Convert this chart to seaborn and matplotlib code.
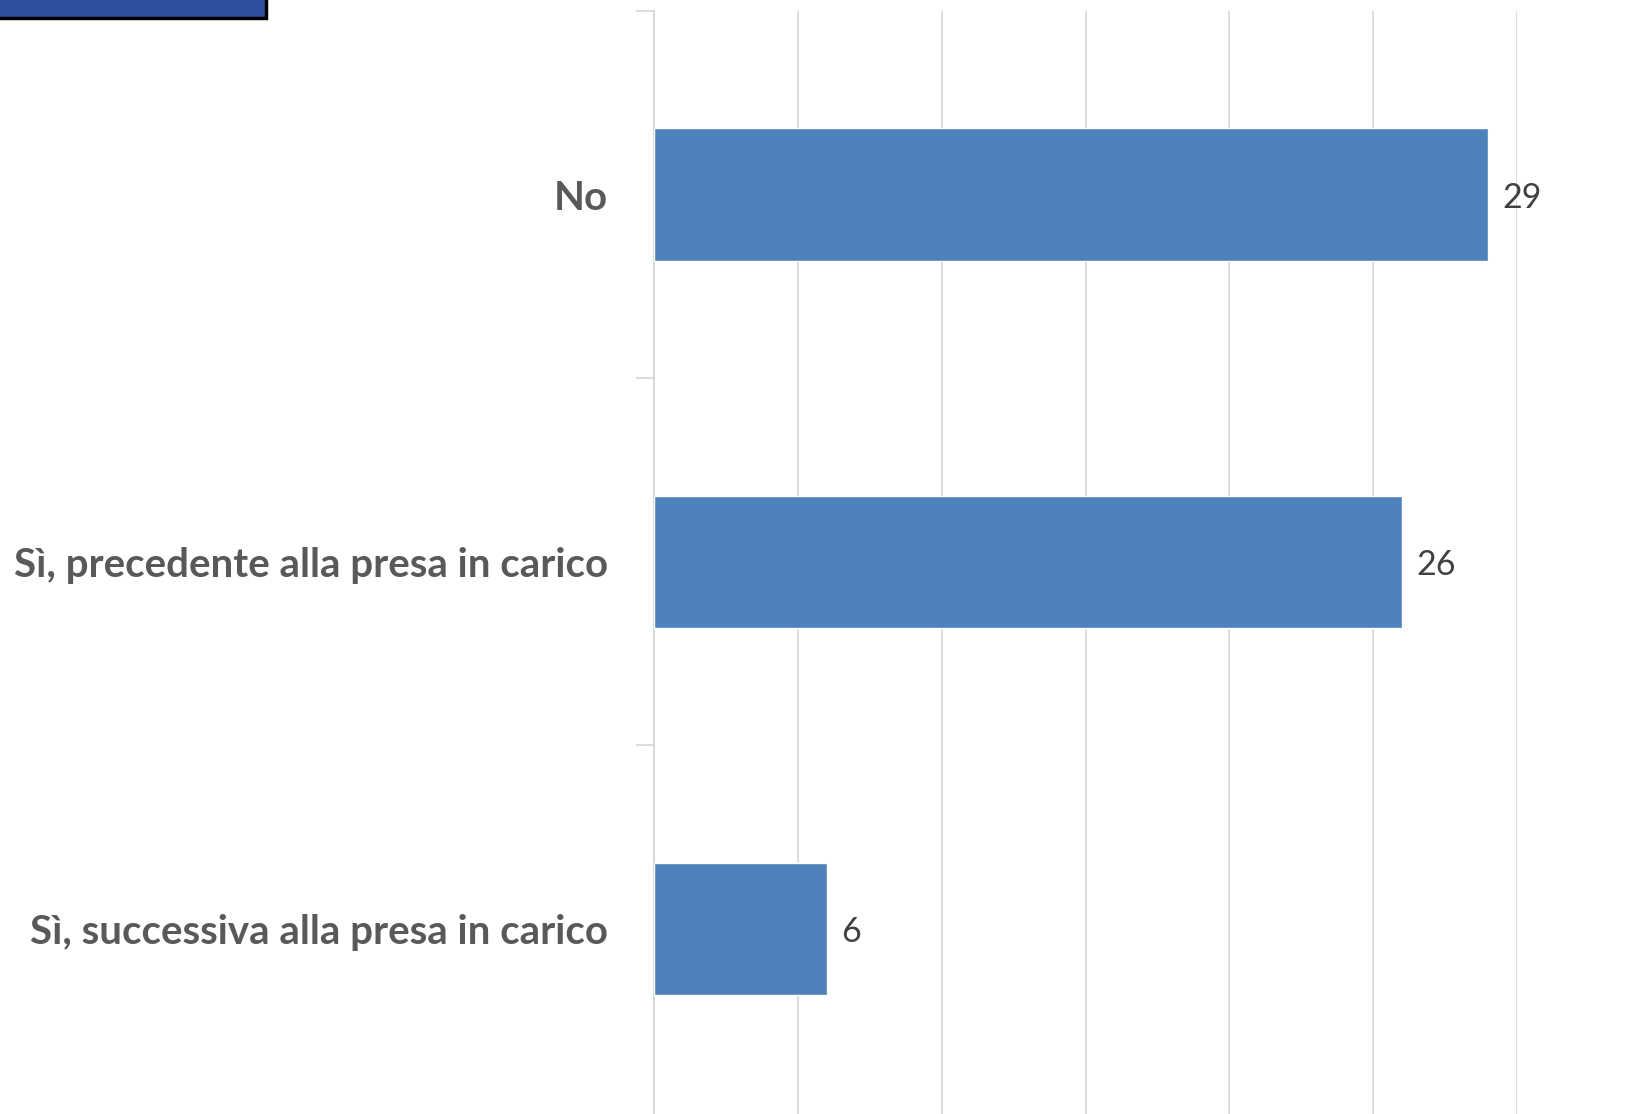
import matplotlib
matplotlib.use("Agg")
import matplotlib.pyplot as plt
import seaborn as sns
import pandas as pd
from matplotlib.patches import Rectangle

# dati
categorie = ["No", "Sì, precedente alla presa in carico", "Sì, successiva alla presa in carico"]
valori = [29, 26, 6]
x_ticks = [0, 5, 10, 15, 20, 25, 30]

BLU = "#4F81BD"
GRIGIO_TESTO = "#595959"
GRIGIO_GRIGLIA = "#D9D9D9"

sns.set_style("white")
plt.rcParams["font.family"] = ["Lato", "DejaVu Sans"]

df = pd.DataFrame({"categoria": categorie, "valore": valori})

fig = plt.figure(figsize=(16.49, 11.14), dpi=100)
ax = fig.add_axes([654 / 1649, 0.0, (1517 - 654) / 1649, 1 - 11 / 1114])

sns.barplot(data=df, y="categoria", x="valore", orient="h", color=BLU,
            width=0.36, saturation=1, ax=ax, zorder=3)

ax.set_xlim(0, 30)
ax.set_ylim(2.505, -0.5)
ax.set_xticks(x_ticks)
ax.set_xticklabels([])
ax.grid(axis="x", color=GRIGIO_GRIGLIA, lw=1.3, zorder=0)
ax.tick_params(axis="x", length=0)

# tick di categoria sui confini
ax.set_yticks(range(len(categorie)))
ax.set_yticklabels(categorie, fontsize=29, fontweight="bold", color=GRIGIO_TESTO)
ax.set_yticks([-0.5, 0.5, 1.5], minor=True)
ax.tick_params(axis="y", which="minor", left=True, length=13, width=1.3,
               color=GRIGIO_GRIGLIA, direction="out")
ax.tick_params(axis="y", which="major", length=0, pad=33)

for side in ["top", "right", "bottom"]:
    ax.spines[side].set_visible(False)
ax.spines["left"].set_color(GRIGIO_GRIGLIA)
ax.spines["left"].set_linewidth(1.5)
ax.set_xlabel("")
ax.set_ylabel("")

# etichette dei valori
for i, v in enumerate(valori):
    ax.text(v + 0.5, i + 0.01, str(v), va="center", ha="left", fontsize=24.5, color="#404040")

# riquadro tagliato in alto a sinistra
fig.patches.append(Rectangle((-0.01, 1 - 18 / 1114), 0.01 + 266 / 1649, 0.03,
                             transform=fig.transFigure, facecolor="#2E4E9E",
                             edgecolor="black", lw=2.5, zorder=5))

fig.savefig("out.png", dpi=100)
